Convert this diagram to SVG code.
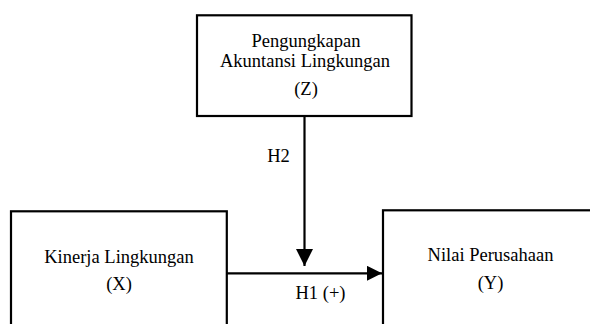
<svg xmlns="http://www.w3.org/2000/svg" width="590" height="324" viewBox="0 0 590 324">
<style>
.box{fill:#fff;stroke:#000;stroke-width:2.2}
.t{font-family:'Liberation Serif','Times New Roman',serif;font-size:18.5px;fill:#000;text-anchor:middle}
.c{stroke:#000;stroke-width:2.2;fill:none}
</style>
<defs>
<marker id="ah" markerUnits="userSpaceOnUse" markerWidth="17" markerHeight="17" viewBox="0 0 17 17" refX="17" refY="8.5" orient="auto">
<path d="M0,0 L17,8.5 L0,17 Z" fill="#000"/>
</marker>
<marker id="ah2" markerUnits="userSpaceOnUse" markerWidth="15" markerHeight="15" viewBox="0 0 15 15" refX="15" refY="7.5" orient="auto">
<path d="M0,0 L15,7.5 L0,15 Z" fill="#000"/>
</marker>
</defs>
<g id="connectors">
<line class="c" x1="304.5" y1="116" x2="304.5" y2="266" marker-end="url(#ah)"/>
<line class="c" x1="227" y1="273.3" x2="382" y2="273.3" marker-end="url(#ah2)"/>
<text class="t" x="278.5" y="161.5">H2</text>
<text class="t" x="320.5" y="298.5">H1 (+)</text>
</g>
<g id="nodeZ">
<rect class="box" x="197" y="15.3" width="214.5" height="100.7"/>
<text class="t" x="306" y="46.5">Pengungkapan</text>
<text class="t" x="305" y="66.5">Akuntansi Lingkungan</text>
<text class="t" x="306" y="94.5">(Z)</text>
</g>
<g id="nodeX">
<rect class="box" x="11" y="211.3" width="215.8" height="130"/>
<text class="t" x="119" y="262.7">Kinerja Lingkungan</text>
<text class="t" x="119" y="290">(X)</text>
</g>
<g id="nodeY">
<rect class="box" x="383" y="210.3" width="230" height="130"/>
<text class="t" x="490.5" y="260.7">Nilai Perusahaan</text>
<text class="t" x="490.5" y="289.3">(Y)</text>
</g>
</svg>
